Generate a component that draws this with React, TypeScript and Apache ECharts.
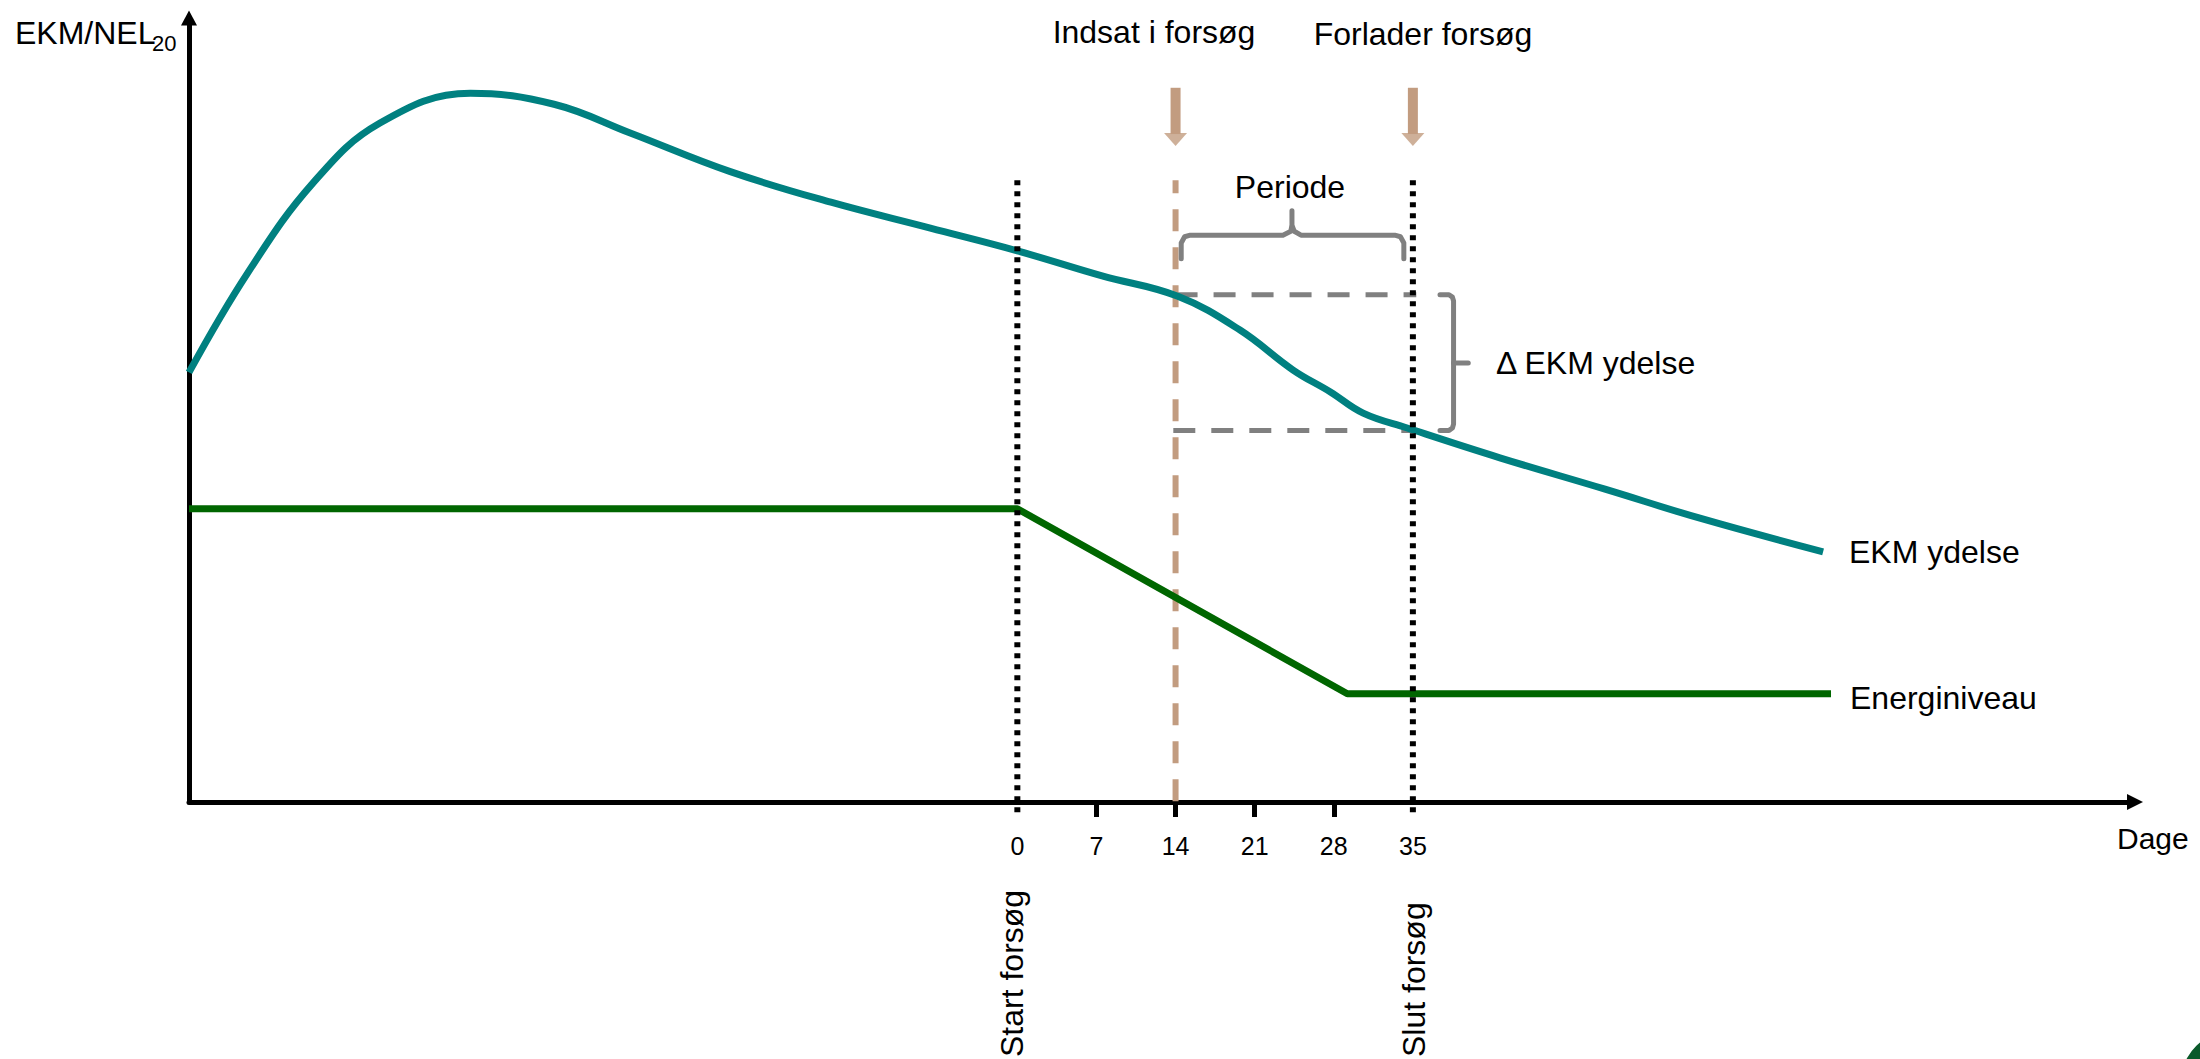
import React, { useEffect, useRef } from "react";
import * as echarts from "echarts";

const FONT = "'Liberation Sans', Arial, Helvetica, sans-serif";

// Axis ranges (x: days relative to start of the trial, y: arbitrary EKM/NEL20 units)
const xMin = -73.3;
const xMax = 98.9;
const yMin = 0;
const yMax = 100;

const tickLabelDays = [0, 7, 14, 21, 28, 35];
const tickMarkDays = [7, 14, 21, 28];

// EKM ydelse curve
const ekmDays = [
  -73.3, -68.1, -62.3, -56.4, -48.4, -41.0, -34.2, -25.4, -16.5, -7.7, 0, 7.5,
  14.2, 19.7, 24.4, 27.7, 30.6, 34.5, 42.7, 52.0, 60.4, 71.3,
];
const ekmValues = [
  54.8, 67.5, 79.0, 86.6, 90.4, 89.0, 85.3, 80.4, 76.5, 73.2, 70.3, 67.1,
  64.5, 60.2, 55.1, 52.3, 49.6, 47.7, 43.9, 39.9, 36.2, 31.9,
];

// Energiniveau
const energyDays = [-73.3, 0, 29.2, 72.0];
const energyValues = [37.4, 37.4, 13.8, 13.8];

// Annotation anchors (data units)
const startDay = 0;
const insertDay = 14;
const endDay = 35;
const guideTop = 79.3;
const guideBottom = -1.5;
const deltaTop = 64.7;
const deltaBottom = 47.4;
const arrowShaft = [91.1, 85.2];
const arrowHead = 84.5;

// Braces (data units)
const periodeBraceDays = [14.5, 14.5, 14.8, 15.3, 23.5, 24.2, 24.3, 24.3, 24.3, 24.5, 25.1, 33.4, 33.9, 34.2, 34.2];
const periodeBraceValues = [69.3, 71.3, 72.1, 72.3, 72.3, 72.8, 73.6, 75.4, 73.6, 72.8, 72.3, 72.3, 72.1, 71.3, 69.3];
const deltaBraceDays = [37.4, 38.2, 38.5, 38.6, 38.6, 38.5, 38.2, 37.4];
const deltaBraceValues = [64.7, 64.7, 64.4, 63.9, 48.2, 47.7, 47.4, 47.4];
const deltaNubDays = [38.6, 39.9];
const deltaNubValues = [56.0, 56.0];

const TEAL = "#008080";
const GREEN = "#006600";
const TAN = "#C29C80";
const GRAY = "#808080";

const zip = (xs: number[], ys: number[]) => xs.map((x, i) => [x, ys[i]]);

const lineSeries = (name: string, data: number[][], lineStyle: any, extra: any = {}) => ({
  type: "line",
  name,
  data,
  symbol: "none",
  showSymbol: false,
  silent: true,
  animation: false,
  lineStyle,
  ...extra,
});

const txt = (text: string, x: number, y: number, fontSize: number, align = "left", extra: any = {}) => ({
  type: "text",
  x,
  y,
  z: 100,
  ...extra,
  style: {
    text,
    fontSize,
    fontFamily: FONT,
    fill: "#000",
    align,
    verticalAlign: "middle",
  },
});

export default function App() {
  const ref = useRef<HTMLDivElement>(null);

  useEffect(() => {
    if (!ref.current) return;
    const chart = echarts.init(ref.current, null, { renderer: "svg" });

    const option: any = {
      animation: false,
      textStyle: { fontFamily: FONT },
      grid: { left: 189, right: 65, top: 18, bottom: 257, containLabel: false, outerBoundsMode: "none" },
      xAxis: {
        type: "value",
        min: xMin,
        max: xMax,
        splitLine: { show: false },
        axisLine: {
          show: true,
          onZero: false,
          symbol: ["none", "triangle"],
          symbolSize: [16, 16],
          lineStyle: { color: "#000", width: 5 },
        },
        axisTick: {
          show: true,
          customValues: tickMarkDays,
          length: 15,
          lineStyle: { color: "#000", width: 5 },
        },
        axisLabel: {
          show: true,
          customValues: tickLabelDays,
          margin: 31,
          fontSize: 25,
          color: "#000",
          fontFamily: FONT,
          fontWeight: "normal",
        },
      },
      yAxis: {
        type: "value",
        min: yMin,
        max: yMax,
        splitLine: { show: false },
        axisTick: { show: false },
        axisLabel: { show: false },
        axisLine: {
          show: true,
          onZero: false,
          symbol: ["none", "triangle"],
          symbolSize: [16, 15],
          lineStyle: { color: "#000", width: 5 },
        },
      },
      series: [
        lineSeries("deltaTop", [[insertDay, deltaTop], [endDay + 0.3, deltaTop]], {
          color: GRAY, width: 5, type: [22, 16], cap: "butt",
        }),
        lineSeries("deltaBottom", [[insertDay - 0.2, deltaBottom], [endDay, deltaBottom]], {
          color: GRAY, width: 5, type: [22, 16], cap: "butt",
        }),
        lineSeries("insert", [[insertDay, guideTop], [insertDay, 0]], {
          color: TAN, width: 6, type: [22, 16], dashOffset: 9, cap: "butt",
        }),
        lineSeries("Energiniveau", zip(energyDays, energyValues), {
          color: GREEN, width: 7, cap: "butt",
        }),
        lineSeries("EKM ydelse", zip(ekmDays, ekmValues), {
          color: TEAL, width: 7, cap: "butt",
        }, { smooth: 0.4 }),
        lineSeries("start", [[startDay, guideTop], [startDay, guideBottom]], {
          color: "#000", width: 6, type: [5, 6], cap: "butt",
        }, { clip: false }),
        lineSeries("end", [[endDay, guideTop], [endDay, guideBottom]], {
          color: "#000", width: 6, type: [5, 6], cap: "butt",
        }, { clip: false }),
        lineSeries("periodeBrace", zip(periodeBraceDays, periodeBraceValues), {
          color: GRAY, width: 5, cap: "round", join: "round",
        }),
        lineSeries("deltaBrace", zip(deltaBraceDays, deltaBraceValues), {
          color: GRAY, width: 5, cap: "round", join: "round",
        }),
        lineSeries("deltaNub", zip(deltaNubDays, deltaNubValues), {
          color: GRAY, width: 5, cap: "round",
        }),
        lineSeries("arrow1", [[insertDay, arrowShaft[0]], [insertDay, arrowShaft[1]]], {
          color: TAN, width: 10, cap: "butt",
        }),
        lineSeries("arrow2", [[endDay, arrowShaft[0]], [endDay, arrowShaft[1]]], {
          color: TAN, width: 10, cap: "butt",
        }),
        {
          type: "scatter",
          name: "arrowHeads",
          silent: true,
          animation: false,
          symbol: "triangle",
          symbolRotate: 180,
          symbolSize: [23, 13],
          itemStyle: { color: TAN },
          data: [[insertDay, arrowHead], [endDay, arrowHead]],
        },
      ],
      graphic: [
        txt("EKM/NEL", 15, 33, 32),
        txt("20", 152, 43, 22),
        txt("Indsat i forsøg", 1154, 32, 32, "center"),
        txt("Forlader forsøg", 1423, 34, 32, "center"),
        txt("Periode", 1290, 187, 32, "center"),
        txt("\u0394 EKM ydelse", 1496, 363, 32),
        txt("EKM ydelse", 1849, 552, 32),
        txt("Energiniveau", 1850, 698, 32),
        txt("Dage", 2117, 838, 30),
        txt("Start forsøg", 1012, 1057, 32, "left", { rotation: Math.PI / 2 }),
        txt("Slut forsøg", 1414, 1057, 32, "left", { rotation: Math.PI / 2 }),
        {
          type: "circle",
          z: 100,
          shape: { cx: 2235, cy: 1085, r: 55 },
          style: { fill: "#0B5A2B" },
        },
      ],
    };

    chart.setOption(option);
    return () => chart.dispose();
  }, []);

  return (
    <div
      ref={ref}
      style={{
        position: "absolute",
        left: 0,
        top: 0,
        width: 2200,
        height: 1059,
        background: "#fff",
        fontFamily: FONT,
      }}
    />
  );
}
